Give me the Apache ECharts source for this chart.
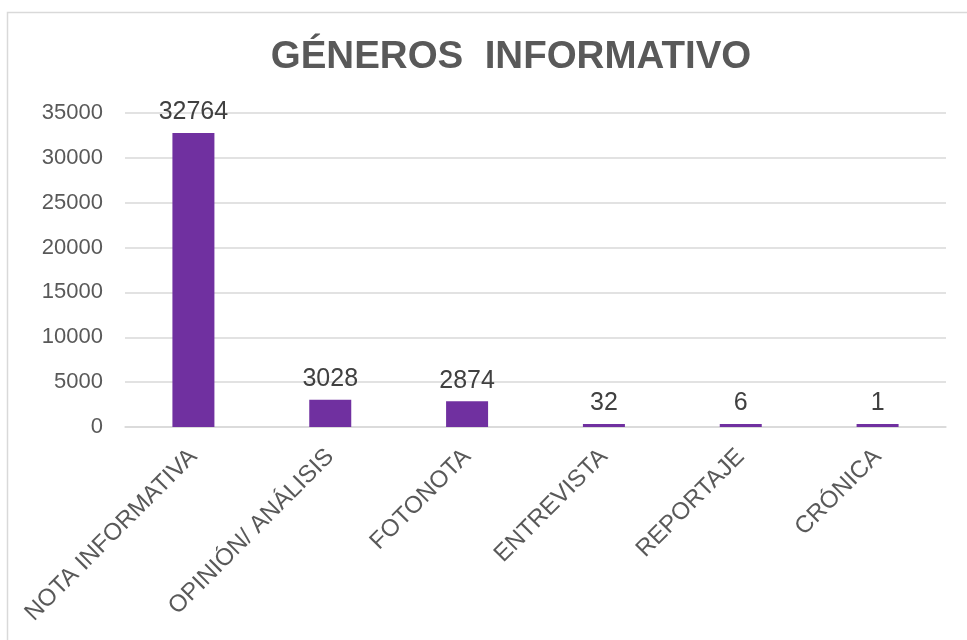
<!DOCTYPE html>
<html>
<head>
<meta charset="utf-8">
<script src="https://cdn.jsdelivr.net/npm/echarts@6/dist/echarts.min.js"></script>
<style>html,body{margin:0;padding:0;background:#fff}#c{width:967px;height:640px}</style>
</head>
<body>
<div id="c"></div>
<script>
const titleText = 'GÉNEROS  INFORMATIVO';
const categories = ['NOTA INFORMATIVA', 'OPINIÓN/ ANÁLISIS', 'FOTONOTA', 'ENTREVISTA', 'REPORTAJE', 'CRÓNICA'];
const values = [32764, 3028, 2874, 32, 6, 1];
const yTicks = [0, 5000, 10000, 15000, 20000, 25000, 30000, 35000];

const chart = echarts.init(document.getElementById('c'), null, {renderer: 'canvas'});
const FONT = '"Liberation Sans", Arial, sans-serif';
chart.setOption({
  animation: false,
  backgroundColor: '#ffffff',
  graphic: [{
    type: 'rect', left: 5, top: 10, z: -1,
    shape: {width: 1000, height: 700},
    style: {fill: 'none', stroke: '#d9d9d9', lineWidth: 1.5}
  }],
  title: {
    text: titleText,
    left: 506, top: 33, textAlign: 'center',
    textStyle: {fontFamily: FONT, fontSize: 38.5, fontWeight: 'bold', color: '#595959'}
  },
  grid: {left: 125, right: 21, top: 113, bottom: 213, containLabel: false},
  xAxis: {
    type: 'category',
    data: categories,
    axisTick: {show: false},
    axisLine: {lineStyle: {color: '#d9d9d9', width: 1.5}},
    axisLabel: {rotate: 45, interval: 0, margin: 26, fontFamily: FONT, fontSize: 24, color: '#595959'}
  },
  yAxis: {
    type: 'value',
    min: yTicks[0], max: yTicks[yTicks.length - 1], interval: yTicks[1] - yTicks[0],
    axisLine: {show: false},
    axisTick: {show: false},
    splitLine: {lineStyle: {color: '#d9d9d9', width: 1.5}},
    axisLabel: {margin: 22, fontFamily: FONT, fontSize: 22, color: '#595959', formatter: v => String(v)}
  },
  series: [{
    type: 'bar',
    data: values,
    barWidth: 42,
    barMinHeight: 3,
    itemStyle: {color: '#7030A0'},
    label: {show: true, position: 'top', distance: 8, fontFamily: FONT, fontSize: 25, color: '#404040'}
  }]
});
</script>
</body>
</html>
